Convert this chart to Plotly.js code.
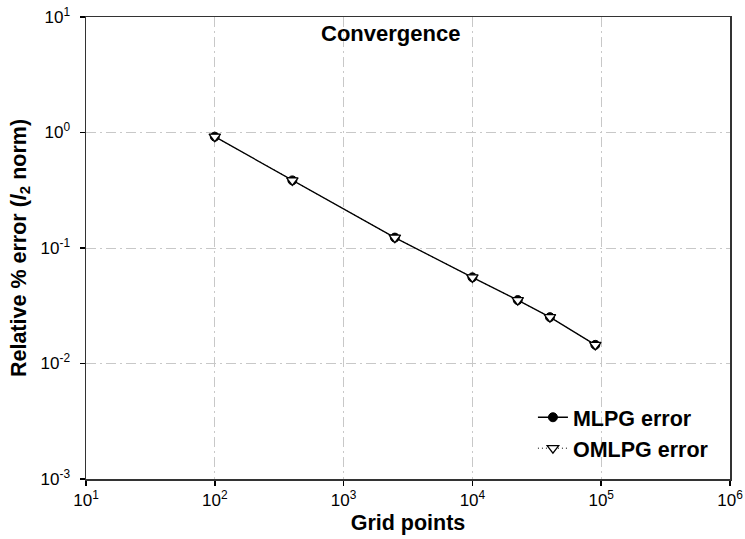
<!DOCTYPE html>
<html>
<head>
<meta charset="utf-8">
<script src="https://cdn.plot.ly/plotly-3.0.1.min.js"></script>
<style>html,body{margin:0;padding:0;background:#fff;}#chart{width:745px;height:539px;}</style>
</head>
<body>
<div id="chart"></div>
<script>
var gridPoints = [100, 400, 2500, 10000, 22500, 40000, 90000];
var mlpgError = [0.92, 0.385, 0.123, 0.0557, 0.0354, 0.0252, 0.0145];
var omlpgError = [0.92, 0.385, 0.123, 0.0557, 0.0354, 0.0252, 0.0145];
var xTickVals = [10, 100, 1000, 10000, 100000, 1000000];
var xTickText = ['10<sup>1</sup>', '10<sup>2</sup>', '10<sup>3</sup>', '10<sup>4</sup>', '10<sup>5</sup>', '10<sup>6</sup>'];
var yTickVals = [0.001, 0.01, 0.1, 1, 10];
var yTickText = ['10<sup>-3</sup>', '10<sup>-2</sup>', '10<sup>-1</sup>', '10<sup>0</sup>', '10<sup>1</sup>'];

var FONT = 'Liberation Sans, Arial, Helvetica, sans-serif';

var traces = [
  {
    x: gridPoints, y: mlpgError, name: '<b>MLPG error</b>',
    type: 'scatter', mode: 'lines+markers',
    line: {color: '#000', width: 1.3, dash: 'solid'},
    marker: {symbol: 'circle', size: 9, color: '#000', line: {color: '#000', width: 1}}
  },
  {
    x: gridPoints, y: omlpgError, name: '<b>OMLPG error</b>',
    type: 'scatter', mode: 'lines+markers',
    line: {color: '#000', width: 1, dash: '1px,3px'},
    marker: {symbol: 'triangle-down', size: 10, color: '#fff', line: {color: '#000', width: 1.3}}
  }
];

var axisCommon = {
  type: 'log',
  showline: true, mirror: true, linecolor: '#333', linewidth: 1.5,
  ticks: 'outside', ticklen: 5, tickwidth: 1.5, tickcolor: '#000',
  showgrid: true, gridcolor: '#c8c8c8', gridwidth: 1, griddash: '10px,4px,2px,4px',
  zeroline: false,
  tickmode: 'array',
  tickfont: {family: FONT, size: 17, color: '#000'}
};

var layout = {
  width: 745, height: 539,
  margin: {l: 86, r: 15, t: 17, b: 60},
  paper_bgcolor: '#fff', plot_bgcolor: '#fff',
  showlegend: true,
  xaxis: Object.assign({}, axisCommon, {
    range: [1, 6],
    tickvals: xTickVals, ticktext: xTickText,
    title: {text: '<b>Grid points</b>', font: {family: FONT, size: 21.5, color: '#000'}, standoff: 6}
  }),
  yaxis: Object.assign({}, axisCommon, {
    range: [-3, 1],
    tickvals: yTickVals, ticktext: yTickText,
    ticklabelstandoff: 6,
    title: {text: '<b>Relative % error (<i>l</i><sub>2</sub> norm)</b>', font: {family: FONT, size: 21.5, color: '#000'}, standoff: 8}
  }),
  legend: {
    x: 0.694, y: 0.178, xanchor: 'left', yanchor: 'top',
    bgcolor: 'rgba(255,255,255,0)', borderwidth: 0,
    font: {family: FONT, size: 21.5, color: '#000'},
    tracegroupgap: 0
  },
  annotations: [{
    text: '<b>Convergence</b>', xref: 'paper', yref: 'paper',
    x: 0.473, y: 0.965, xanchor: 'center', yanchor: 'middle',
    showarrow: false, font: {family: FONT, size: 22, color: '#000'}
  }]
};

Plotly.newPlot('chart', traces, layout, {displayModeBar: false, staticPlot: true});
</script>
</body>
</html>
